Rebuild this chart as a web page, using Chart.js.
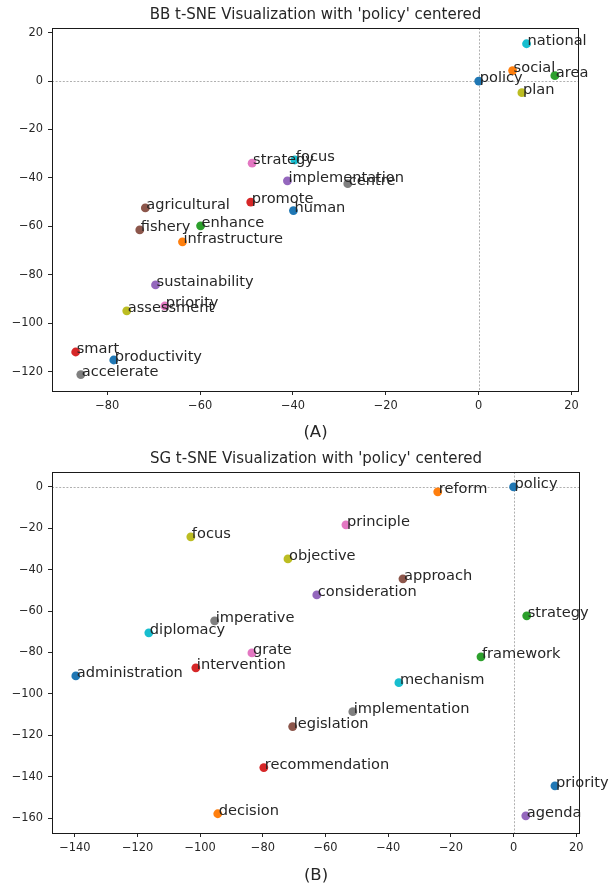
<!DOCTYPE html>
<html>
<head>
<meta charset="utf-8">
<script src="https://cdn.jsdelivr.net/npm/chart.js@4.4.1/dist/chart.umd.min.js"></script>
<style>
  html, body { margin: 0; padding: 0; background: #fff; }
  canvas { display: block; }
</style>
</head>
<body>
<canvas id="bb" width="611" height="445"></canvas>
<canvas id="sg" width="611" height="440"></canvas>
<script>
// ---------- DATA ----------
const bbWords = ['policy','national','social','area','plan','strategy','focus','implementation','centre',
  'agricultural','promote','human','fishery','enhance','infrastructure','sustainability','priority',
  'assessment','smart','productivity','accelerate'];
const bbX = [0, 10.3, 7.3, 16.4, 9.3, -48.8, -39.6, -41.2, -28.2, -71.8, -49.1, -39.9, -73.0, -59.9,
  -63.8, -69.6, -67.6, -75.8, -86.8, -78.6, -85.7];
const bbY = [0, 15.4, 4.3, 2.2, -4.8, -33.9, -32.6, -41.2, -42.4, -52.4, -50.0, -53.5, -61.5, -59.8,
  -66.4, -84.2, -92.9, -94.9, -111.9, -115.2, -121.2];
const bbXTicks = [-80, -60, -40, -20, 0, 20];
const bbYTicks = [20, 0, -20, -40, -60, -80, -100, -120];

const sgWords = ['policy','reform','principle','focus','objective','approach','consideration','strategy',
  'imperative','diplomacy','grate','framework','intervention','administration','mechanism',
  'implementation','legislation','recommendation','priority','decision','agenda'];
const sgX = [0, -24.2, -53.5, -103.0, -72.0, -35.3, -62.8, 4.2, -95.4, -116.4, -83.5, -10.4, -101.4,
  -139.7, -36.6, -51.3, -70.5, -79.7, 13.2, -94.4, 3.9];
const sgY = [0, -2.4, -18.3, -24.1, -34.8, -44.4, -52.2, -62.3, -64.7, -70.5, -80.2, -82.1, -87.4,
  -91.3, -94.6, -108.6, -115.8, -135.6, -144.4, -157.9, -158.9];
const sgXTicks = [-140, -120, -100, -80, -60, -40, -20, 0, 20];
const sgYTicks = [0, -20, -40, -60, -80, -100, -120, -140, -160];

// ---------- STYLE ----------
const TAB = {blue:'#1f77b4', orange:'#ff7f0e', green:'#2ca02c', red:'#d62728', purple:'#9467bd',
  brown:'#8c564b', pink:'#e377c2', gray:'#7f7f7f', olive:'#bcbd22', cyan:'#17becf'};
const bbColorNames = ['blue','cyan','orange','green','olive','pink','cyan','purple','gray',
  'brown','red','blue','brown','green','orange','purple','pink','olive','red','blue','gray'];
const sgColorNames = ['blue','orange','pink','olive','olive','brown','purple','green','gray','cyan',
  'pink','green','red','blue','cyan','gray','brown','red','blue','orange','purple'];

const FONT = "'DejaVu Sans', sans-serif";
const fmt = v => v < 0 ? '\u2212' + Math.abs(v) : String(v);

const framePlugin = {
  id: 'frame',
  beforeDatasetsDraw(chart) {
    const {ctx, chartArea: a, scales: {x, y}} = chart;
    ctx.save();
    ctx.strokeStyle = '#b0b0b0';
    ctx.lineWidth = 1;
    ctx.setLineDash([2, 1.6]);
    const px = Math.round(x.getPixelForValue(0)) + 0.5;
    const py = Math.round(y.getPixelForValue(0)) + 0.5;
    ctx.beginPath();
    ctx.moveTo(px, a.top); ctx.lineTo(px, a.bottom);
    ctx.moveTo(a.left, py); ctx.lineTo(a.right, py);
    ctx.stroke();
    ctx.restore();
  },
  afterDatasetsDraw(chart) {
    const {ctx, chartArea: a} = chart;
    const meta = chart.getDatasetMeta(0);
    const words = chart.data.datasets[0].words;
    ctx.save();
    ctx.font = '14.6px ' + FONT;
    ctx.fillStyle = '#262626';
    ctx.textAlign = 'left';
    ctx.textBaseline = 'alphabetic';
    meta.data.forEach((el, i) => {
      ctx.fillText(words[i], el.x + 1, el.y + 1);
    });
    ctx.strokeStyle = '#1a1a1a';
    ctx.lineWidth = 1;
    ctx.setLineDash([]);
    ctx.strokeRect(Math.round(a.left) + 0.5, Math.round(a.top) + 0.5,
      Math.round(a.right - a.left) - 1, Math.round(a.bottom - a.top));
    ctx.restore();
  }
};

function makeChart(id, cfg) {
  const pts = cfg.xs.map((v, i) => ({x: v, y: cfg.ys[i]}));
  return new Chart(document.getElementById(id), {
    type: 'scatter',
    data: {
      datasets: [{
        data: pts,
        words: cfg.words,
        backgroundColor: cfg.colors.map(c => TAB[c]),
        borderWidth: 0,
        pointRadius: 4.4,
        pointHoverRadius: 4.4
      }]
    },
    options: {
      responsive: false,
      animation: false,
      devicePixelRatio: 1,
      events: [],
      layout: {padding: {left: 0, right: cfg.padRight, top: 0, bottom: 0}},
      plugins: {
        legend: {display: false},
        tooltip: {enabled: false},
        title: {
          display: true,
          fullSize: false,
          text: cfg.title,
          color: '#262626',
          font: {family: FONT, size: 15, weight: 'normal', lineHeight: 1},
          padding: {top: cfg.titleTop, bottom: cfg.titleBottom}
        }
      },
      scales: {
        x: {
          type: 'linear',
          min: cfg.xmin, max: cfg.xmax,
          afterFit: s => { s.height = cfg.xAxisH; },
          afterBuildTicks: s => { s.ticks = cfg.xTicks.map(v => ({value: v})); },
          ticks: {callback: fmt, color: '#262626', font: {family: FONT, size: 11.4}, padding: 4,
                  maxRotation: 0, autoSkip: false},
          grid: {drawOnChartArea: false, drawTicks: true, tickLength: 4, tickColor: '#262626', tickWidth: 1},
          border: {display: false},
          title: {display: true, text: cfg.sub, color: '#262626',
                  font: {family: FONT, size: 16.5, lineHeight: 1}, padding: {top: 0, bottom: cfg.subPad}}
        },
        y: {
          type: 'linear',
          min: cfg.ymin, max: cfg.ymax,
          afterFit: s => { s.width = 52; },
          afterBuildTicks: s => { s.ticks = cfg.yTicks.map(v => ({value: v})); },
          ticks: {callback: fmt, color: '#262626', font: {family: FONT, size: 11.4}, padding: 5, autoSkip: false},
          grid: {drawOnChartArea: false, drawTicks: true, tickLength: 4, tickColor: '#262626', tickWidth: 1},
          border: {display: false}
        }
      }
    },
    plugins: [framePlugin]
  });
}

makeChart('bb', {
  words: bbWords, xs: bbX, ys: bbY, colors: bbColorNames,
  title: "BB t-SNE Visualization with 'policy' centered", sub: '(A)',
  xmin: -91.9, xmax: 21.6, ymin: -128.0, ymax: 21.9,
  xTicks: bbXTicks, yTicks: bbYTicks,
  padRight: 32, titleTop: 8, titleBottom: 5, xAxisH: 54, subPad: 3.75
});

makeChart('sg', {
  words: sgWords, xs: sgX, ys: sgY, colors: sgColorNames,
  title: "SG t-SNE Visualization with 'policy' centered", sub: '(B)',
  xmin: -147.3, xmax: 21.2, ymin: -167.2, ymax: 7.2,
  xTicks: sgXTicks, yTicks: sgYTicks,
  padRight: 31, titleTop: 7, titleBottom: 5, xAxisH: 52, subPad: 0.75
});
</script>
</body>
</html>
